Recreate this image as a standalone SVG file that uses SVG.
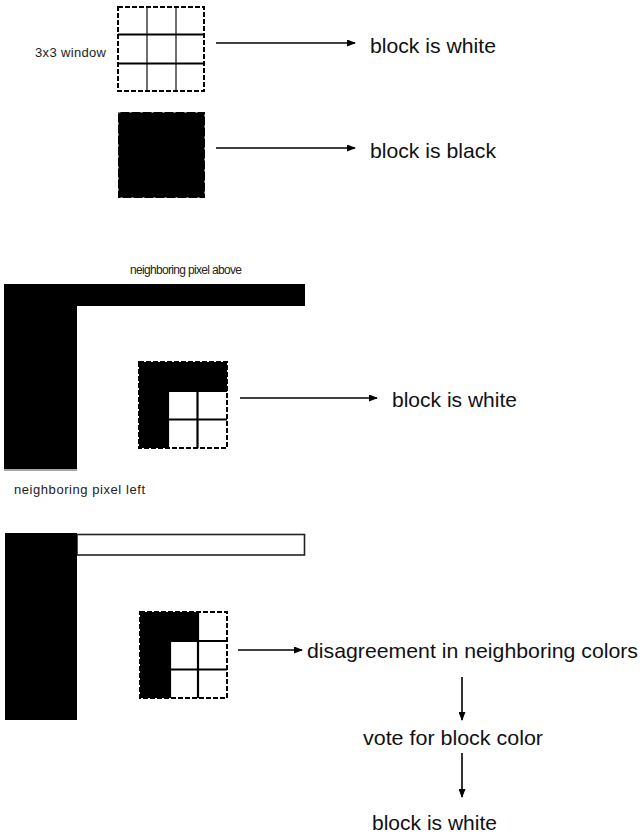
<svg xmlns="http://www.w3.org/2000/svg" width="642" height="838" viewBox="0 0 642 838">
  <style>
    .lbl { font-family: "Liberation Sans", Arial, sans-serif; font-size: 21px; fill: #111; }
    .small { font-family: "Liberation Sans", Arial, sans-serif; font-size: 13px; fill: #222; }
    .tiny { font-family: "Liberation Sans", Arial, sans-serif; font-size: 12px; fill: #222; }
    .edge { fill: none; stroke: #000; stroke-width: 2; stroke-dasharray: 5 2; }
    .edgeLight { fill: none; stroke: #bbb; stroke-width: 0.8; stroke-dasharray: 2 9; }
    .grid { stroke: #000; stroke-width: 2.2; }
    .gridThin { stroke: #333; stroke-width: 1.4; }
    .conn { stroke: #000; stroke-width: 1.6; fill: none; marker-end: url(#head); }
  </style>
  <defs>
    <marker id="head" markerWidth="9" markerHeight="7" refX="8" refY="3.5" orient="auto" markerUnits="userSpaceOnUse">
      <path d="M0,0 L9,3.5 L0,7 Z" fill="#000"/>
    </marker>
  </defs>
  <rect width="642" height="838" fill="#fff"/>

  <!-- 3x3 window, all white -->
  <g id="window-white">
    <text class="small" x="35" y="57" textLength="71" lengthAdjust="spacing">3x3 window</text>
    <rect x="118" y="7" width="86" height="84" fill="#fff"/>
    <line class="gridThin" x1="147" y1="7" x2="147" y2="91"/>
    <line class="gridThin" x1="176" y1="7" x2="176" y2="91"/>
    <line class="grid" x1="118" y1="34.5" x2="204" y2="34.5"/>
    <line class="grid" x1="118" y1="63.5" x2="204" y2="63.5"/>
    <rect class="edge" x="118" y="7" width="86" height="84"/>
  </g>

  <!-- 3x3 window, all black -->
  <g id="window-black">
    <rect x="118" y="112" width="87" height="86" fill="#000"/>
    <rect class="edgeLight" x="118.5" y="112.5" width="86" height="85"/>
  </g>

  <g id="result-white-1"><text class="lbl" x="370" y="53" textLength="126" lengthAdjust="spacingAndGlyphs">block is white</text></g>
  <g id="result-black"><text class="lbl" x="370" y="158" textLength="126" lengthAdjust="spacingAndGlyphs">block is black</text></g>

  <!-- neighbours agree: both black -->
  <g id="neighbors-black">
    <text class="tiny" x="130" y="274" textLength="112" lengthAdjust="spacing">neighboring pixel above</text>
    <rect x="4" y="284" width="301" height="22" fill="#000"/>
    <rect x="4" y="284" width="73" height="185" fill="#000"/>
    <line x1="4" y1="470" x2="77" y2="470" stroke="#888" stroke-width="1.6"/>
    <text class="small" x="14" y="494" textLength="131" lengthAdjust="spacing">neighboring pixel left</text>
  </g>

  <g id="window-corner">
    <rect x="139" y="362" width="88" height="86" fill="#000"/>
    <rect x="168" y="391" width="59" height="57" fill="#fff"/>
    <line class="grid" x1="197.5" y1="391" x2="197.5" y2="448"/>
    <line class="grid" x1="168" y1="419.5" x2="227" y2="419.5"/>
    <line class="grid" x1="168" y1="391" x2="168" y2="448"/>
    <line class="grid" x1="168" y1="391" x2="227" y2="391"/>
    <rect class="edge" x="139" y="362" width="88" height="86"/>
  </g>

  <g id="result-white-2"><text class="lbl" x="392" y="407" textLength="125" lengthAdjust="spacingAndGlyphs">block is white</text></g>

  <!-- neighbours disagree: left black, above white -->
  <g id="neighbors-mixed">
    <rect x="77" y="534.5" width="227.5" height="20.5" fill="#fff" stroke="#222" stroke-width="1.6"/>
    <rect x="5" y="533" width="72" height="187" fill="#000"/>
  </g>

  <g id="window-mixed">
    <rect x="140" y="612" width="87" height="86" fill="#fff"/>
    <rect x="140" y="612" width="58" height="29" fill="#000"/>
    <rect x="140" y="612" width="30" height="86" fill="#000"/>
    <line class="grid" x1="198" y1="612" x2="198" y2="698"/>
    <line class="grid" x1="170" y1="641" x2="170" y2="698"/>
    <line class="grid" x1="170" y1="641" x2="227" y2="641"/>
    <line class="grid" x1="170" y1="669.5" x2="227" y2="669.5"/>
    <rect class="edge" x="140" y="612" width="87" height="86"/>
  </g>

  <g id="disagreement"><text class="lbl" x="307" y="658" textLength="331" lengthAdjust="spacingAndGlyphs">disagreement in neighboring colors</text></g>
  <g id="vote"><text class="lbl" x="363" y="745" textLength="180" lengthAdjust="spacingAndGlyphs">vote for block color</text></g>
  <g id="result-white-3"><text class="lbl" x="372" y="830" textLength="125" lengthAdjust="spacingAndGlyphs">block is white</text></g>

  <g id="connectors">
    <line class="conn" x1="216" y1="43" x2="355" y2="43"/>
    <line class="conn" x1="216" y1="148" x2="355" y2="148"/>
    <line class="conn" x1="240" y1="398" x2="377" y2="398"/>
    <line class="conn" x1="238" y1="650" x2="302" y2="650"/>
    <line class="conn" x1="462" y1="677" x2="462" y2="720"/>
    <line class="conn" x1="462" y1="753" x2="462" y2="797"/>
  </g>
</svg>
